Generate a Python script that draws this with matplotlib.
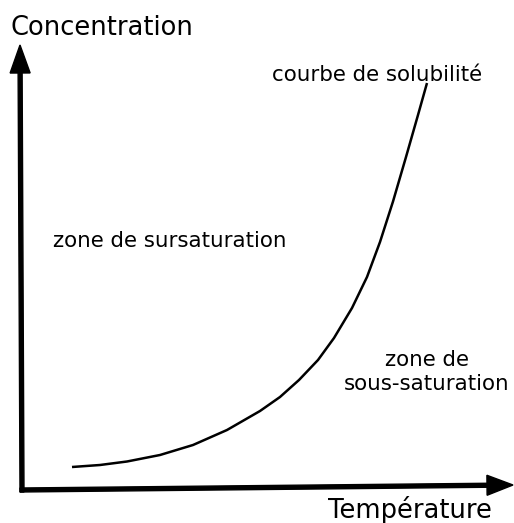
import matplotlib
matplotlib.use("Agg")
import matplotlib.pyplot as plt

# solubility curve (arbitrary units, origin at the axes corner)
temperature = [50, 78, 105, 138, 171, 205, 238, 258, 277, 296, 312, 330, 345, 358, 371, 384, 396, 405]
concentration = [23, 25, 28.5, 35, 45, 60, 79, 93, 110, 130, 152, 182, 213, 248, 288.5, 333, 375, 407]

axis_labels = ["Concentration", "Température"]
zone_labels = ["zone de sursaturation", "zone de\nsous-saturation"]
curve_label = "courbe de solubilité"

fig = plt.figure(figsize=(5.14, 5.23), dpi=100)
ax = fig.add_axes([0, 0, 1, 1])
ax.set_xlim(-22, 492)
ax.set_ylim(-33, 490)
ax.axis("off")

# axes with arrow heads
ax.arrow(0, -2, -2, 447, width=4, head_width=20, head_length=28,
         length_includes_head=True, color="black")
ax.arrow(-2, 0, 493, 5, width=4, head_width=20, head_length=26,
         length_includes_head=True, color="black")

ax.plot(temperature, concentration, color="black", lw=1.8,
        solid_joinstyle="round", solid_capstyle="butt")

ax.text(-12, 462, axis_labels[0], fontsize=18.5, va="center", ha="left")
ax.text(388, -20, axis_labels[1], fontsize=18.5, va="center", ha="center")
ax.text(355.5, 415, curve_label, fontsize=15.4, va="center", ha="center")
ax.text(148, 249, zone_labels[0], fontsize=15.4, va="center", ha="center")
ax.text(405, 118, zone_labels[1], fontsize=15.4, va="center", ha="center",
        linespacing=1.25)

fig.savefig("out.png", dpi=100)
